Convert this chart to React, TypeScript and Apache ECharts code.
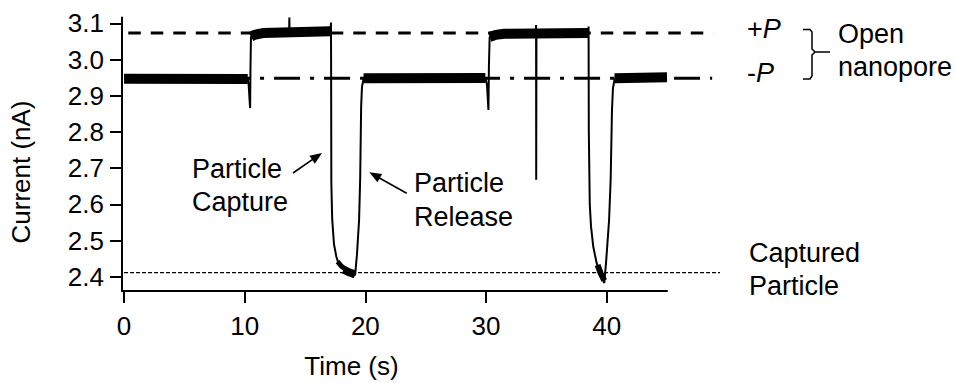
import React, { useEffect, useRef } from "react";
import * as echarts from "echarts";

// ---- data ----
const X_TICKS = [0, 10, 20, 30, 40];
const Y_TICKS = [2.4, 2.5, 2.6, 2.7, 2.8, 2.9, 3.0, 3.1];

// thin current trace (time s, current nA)
const TRACE: [number, number][] = [
  [0, 2.947], [10.25, 2.946], [10.33, 2.93], [10.4, 2.89], [10.45, 2.866], [10.48, 2.98], [10.52, 3.063],
  [13.68, 3.074], [13.7, 3.116], [13.72, 3.074],
  [17.12, 3.078], [17.15, 3.102], [17.16, 3.0], [17.18, 2.66], [17.25, 2.56], [17.4, 2.49], [17.6, 2.455],
  [17.75, 2.44], [18.2, 2.424], [18.7, 2.413], [19.15, 2.405], [19.3, 2.46], [19.48, 2.557], [19.57, 2.67],
  [19.65, 2.87], [19.72, 2.925], [19.85, 2.946],
  [29.95, 2.949], [30.08, 2.93], [30.15, 2.89], [30.2, 2.861], [30.24, 2.98], [30.3, 3.062],
  [34.13, 3.072], [34.15, 3.095], [34.16, 2.668], [34.18, 3.072],
  [38.48, 3.073], [38.5, 3.091], [38.52, 2.8], [38.6, 2.6], [38.7, 2.54], [38.89, 2.483], [39.17, 2.438],
  [39.5, 2.41], [39.8, 2.383], [39.95, 2.44], [40.2, 2.557], [40.33, 2.668], [40.44, 2.86], [40.52, 2.92],
  [40.65, 2.946], [45, 2.951],
];

// noisy plateaus (drawn as a thick band)
const BAND_MINUS_1: [number, number][] = [[0, 2.947], [10.25, 2.946]];
const BAND_PLUS_1: [number, number][] = [[10.52, 3.063], [10.8, 3.068], [11.5, 3.073], [17.12, 3.078]];
const BAND_MINUS_2: [number, number][] = [[19.85, 2.948], [29.95, 2.949]];
const BAND_PLUS_2: [number, number][] = [[30.3, 3.062], [30.8, 3.068], [31.5, 3.071], [38.48, 3.073]];
const BAND_MINUS_3: [number, number][] = [[40.65, 2.948], [45, 2.951]];
const CAPTURE_BAND_1A: [number, number][] = [[17.7, 2.442], [18.0, 2.43], [18.4, 2.42]];
const CAPTURE_BAND_1B: [number, number][] = [[18.2, 2.42], [18.7, 2.412], [19.15, 2.407]];
const CAPTURE_BAND_2: [number, number][] = [[39.25, 2.433], [39.5, 2.41], [39.8, 2.39]];

// reference levels
const PLUS_P_LEVEL: [number, number][] = [[0.35, 3.073], [48.8, 3.073]];
const MINUS_P_LEVEL: [number, number][] = [[0, 2.948], [48.7, 2.948]];
const CAPTURED_LEVEL: [number, number][] = [[0, 2.412], [49.35, 2.412]];

const X_MIN = -0.17;
const X_MAX = 45;
const X_MAX_WIDE = 49.35;
const Y_MIN = 2.361;
const Y_MAX = 3.116;

const FONT = "'Liberation Sans', Arial, sans-serif";

function arrow(tail: [number, number], tip: [number, number]) {
  const dx = tip[0] - tail[0];
  const dy = tip[1] - tail[1];
  const len = Math.hypot(dx, dy);
  const ux = dx / len, uy = dy / len;
  const hl = 12, hw = 4.8;
  const bx = tip[0] - ux * hl, by = tip[1] - uy * hl;
  const px = -uy, py = ux;
  return [
    { type: "line", shape: { x1: tail[0], y1: tail[1], x2: bx + ux * 2, y2: by + uy * 2 }, style: { stroke: "#000", lineWidth: 1.6 } },
    { type: "polygon", shape: { points: [[tip[0], tip[1]], [bx + px * hw, by + py * hw], [bx - px * hw, by - py * hw]] }, style: { fill: "#000" } },
  ];
}

function txt(text: string, x: number, y: number, size: number, extra: any = {}) {
  return {
    type: "text",
    x, y,
    style: { text, fill: "#000", fontSize: size, fontFamily: FONT, verticalAlign: "middle", align: "left", ...extra },
  };
}

function richP(sign: string, x: number, y: number) {
  return {
    type: "text", x, y,
    style: {
      text: "{n|" + sign + "}{i|P}", fill: "#000", fontSize: 27, fontFamily: FONT, verticalAlign: "middle",
      rich: {
        n: { fontSize: 27, fontFamily: FONT, fill: "#000" },
        i: { fontSize: 27, fontFamily: FONT, fontStyle: "italic", fill: "#000" },
      },
    },
  };
}

export default function App() {
  const ref = useRef<HTMLDivElement>(null);
  useEffect(() => {
    if (!ref.current) return;
    const chart = echarts.init(ref.current, null, { renderer: "svg" });
    const axisCommon = { type: "value", splitLine: { show: false } };
    const bandSeries = (data: [number, number][], w: number) => ({
      type: "line", data, symbol: "none", xAxisIndex: 0, yAxisIndex: 0, z: 3,
      lineStyle: { color: "#000", width: w, cap: "butt" }, silent: true,
    });
    const yTitle: any = txt("Current (nA)", 20.5, 172, 26, { align: "center" });
    yTitle.rotation = Math.PI / 2;
    const option: any = {
      animation: false,
      backgroundColor: "#fff",
      grid: [
        { left: 122, right: 289, top: 17.5, bottom: 92, outerBoundsMode: "none", containLabel: false },
        { left: 122, right: 236, top: 17.5, bottom: 92, outerBoundsMode: "none", containLabel: false },
      ],
      xAxis: [
        {
          ...axisCommon, gridIndex: 0, min: X_MIN, max: X_MAX,
          axisLine: { show: true, onZero: false, lineStyle: { color: "#000", width: 2 } },
          axisTick: { show: true, length: 12, inside: false, lineStyle: { color: "#000", width: 2 }, customValues: X_TICKS },
          axisLabel: { show: true, margin: 22, color: "#000", fontSize: 26, fontFamily: FONT, customValues: X_TICKS, formatter: (v: number) => String(v) },
        },
        { ...axisCommon, gridIndex: 1, min: X_MIN, max: X_MAX_WIDE, show: false },
      ],
      yAxis: [
        {
          ...axisCommon, gridIndex: 0, min: Y_MIN, max: Y_MAX,
          axisLine: { show: true, onZero: false, lineStyle: { color: "#000", width: 2 } },
          axisTick: { show: true, length: 12, inside: false, lineStyle: { color: "#000", width: 2 }, customValues: Y_TICKS },
          axisLabel: { show: true, margin: 18, color: "#000", fontSize: 26, fontFamily: FONT, customValues: Y_TICKS, formatter: (v: number) => v.toFixed(1) },
        },
        { ...axisCommon, gridIndex: 1, min: Y_MIN, max: Y_MAX, show: false },
      ],
      series: [
        {
          name: "+P", type: "line", data: PLUS_P_LEVEL, symbol: "none", xAxisIndex: 1, yAxisIndex: 1, z: 1, silent: true,
          lineStyle: { color: "#000", width: 3, type: [12.5, 10], cap: "butt" },
        },
        {
          name: "-P", type: "line", data: MINUS_P_LEVEL, symbol: "none", xAxisIndex: 1, yAxisIndex: 1, z: 1, silent: true,
          lineStyle: { color: "#000", width: 3, type: [26, 10, 4, 10], cap: "butt" },
        },
        {
          name: "Captured", type: "line", data: CAPTURED_LEVEL, symbol: "none", xAxisIndex: 1, yAxisIndex: 1, z: 1, silent: true,
          lineStyle: { color: "#000", width: 1.2, type: [4, 2], cap: "butt" },
        },
        bandSeries(BAND_MINUS_1, 10),
        bandSeries(BAND_PLUS_1, 10),
        bandSeries(BAND_MINUS_2, 10),
        bandSeries(BAND_PLUS_2, 10),
        bandSeries(BAND_MINUS_3, 10),
        bandSeries(CAPTURE_BAND_1A, 5),
        bandSeries(CAPTURE_BAND_1B, 8),
        bandSeries(CAPTURE_BAND_2, 6),
        {
          name: "trace", type: "line", data: TRACE, symbol: "none", xAxisIndex: 0, yAxisIndex: 0, z: 4, silent: true,
          lineStyle: { color: "#000", width: 2 },
        },
      ],
      graphic: [
        yTitle,
        txt("Time (s)", 351.5, 366, 26, { align: "center" }),
        txt("Particle", 192, 169, 27),
        txt("Capture", 192, 202, 27),
        txt("Particle", 414, 183, 27),
        txt("Release", 414, 217, 27),
        richP("+", 747, 29.3),
        richP("-", 747, 72.7),
        txt("Open", 838, 34.3, 27),
        txt("nanopore", 838, 67, 27),
        txt("Captured", 749, 252.7, 27),
        txt("Particle", 749, 286, 27),
        {
          type: "polyline",
          shape: { points: [[803, 29.5], [810, 29.5], [812, 32], [812, 49], [815, 52], [830, 52], [815, 52], [812, 55], [812, 76], [810, 79], [803, 79]] },
          style: { stroke: "#000", lineWidth: 1.5, fill: null },
        },
        ...arrow([293, 173], [322, 153]),
        ...arrow([406.7, 193.3], [369.3, 172.3]),
      ],
    };
    chart.setOption(option);
    return () => chart.dispose();
  }, []);
  return (
    <div
      ref={ref}
      style={{ position: "fixed", left: 0, top: 0, width: 956, height: 383, background: "#fff" }}
    />
  );
}
